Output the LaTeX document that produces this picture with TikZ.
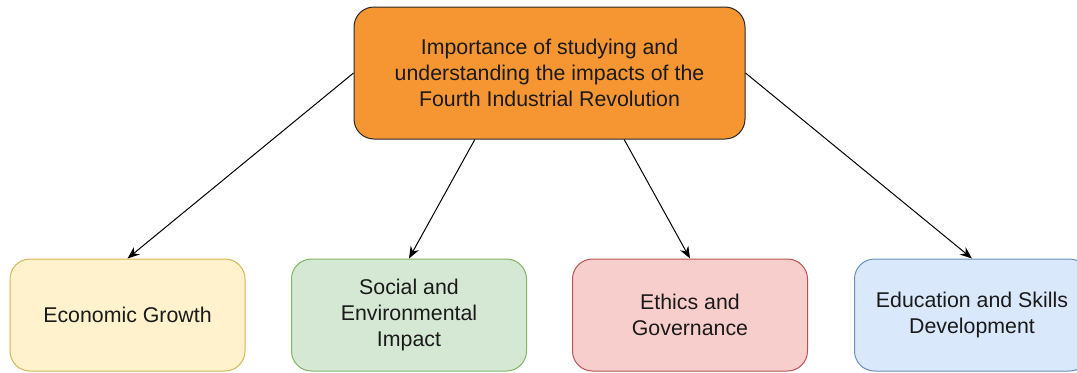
\documentclass[tikz,border=0pt]{standalone}
\usepackage{fontspec}
\setmainfont{Liberation Sans}
\usetikzlibrary{arrows.meta}

\definecolor{topfill}{RGB}{245,150,50}
\definecolor{topline}{RGB}{40,40,40}
\definecolor{yelfill}{RGB}{255,242,204}
\definecolor{yelline}{RGB}{214,182,86}
\definecolor{grnfill}{RGB}{213,232,212}
\definecolor{grnline}{RGB}{130,179,102}
\definecolor{redfill}{RGB}{248,206,204}
\definecolor{redline}{RGB}{184,84,80}
\definecolor{blufill}{RGB}{218,232,252}
\definecolor{bluline}{RGB}{108,142,191}
\definecolor{txt}{RGB}{26,26,26}

\begin{document}
\begin{tikzpicture}[
    x = 0.75pt, y = -0.75pt,
    every node/.style = {font = \fontsize{16}{19.5}\selectfont, text = txt, align = center},
    box/.style = {draw, line width = 0.75pt, rounded corners = 15pt,
                  minimum width = 176.25pt, minimum height = 84pt},
    topbox/.style = {box, fill = topfill, draw = topline,
                     minimum width = 293.25pt, minimum height = 99pt},
    arr/.style = {-{Stealth[length = 9pt, width = 7pt]}, line width = 0.75pt}]

\useasboundingbox (0,0) rectangle (1077,372);

\path (549.5,73) node[topbox](top) {Importance of studying and\\
        understanding the impacts of the\\ Fourth Industrial Revolution}
      (127.5,315) node[box, fill = yelfill, draw = yelline](eco) {Economic Growth}
      (409,315)   node[box, fill = grnfill, draw = grnline](soc) {Social and\\ Environmental\\ Impact}
      (690,315)   node[box, fill = redfill, draw = redline](eth) {Ethics and\\ Governance}
      (972,315)   node[box, fill = blufill, draw = bluline](edu) {Education and Skills\\ Development};

\draw[arr] (top.west) -- (eco.north);
\draw[arr] ([xshift = -56pt]top.south) -- (soc.north);
\draw[arr] ([xshift = 56pt]top.south) -- (eth.north);
\draw[arr] (top.east) -- (edu.north);
\end{tikzpicture}
\end{document}
